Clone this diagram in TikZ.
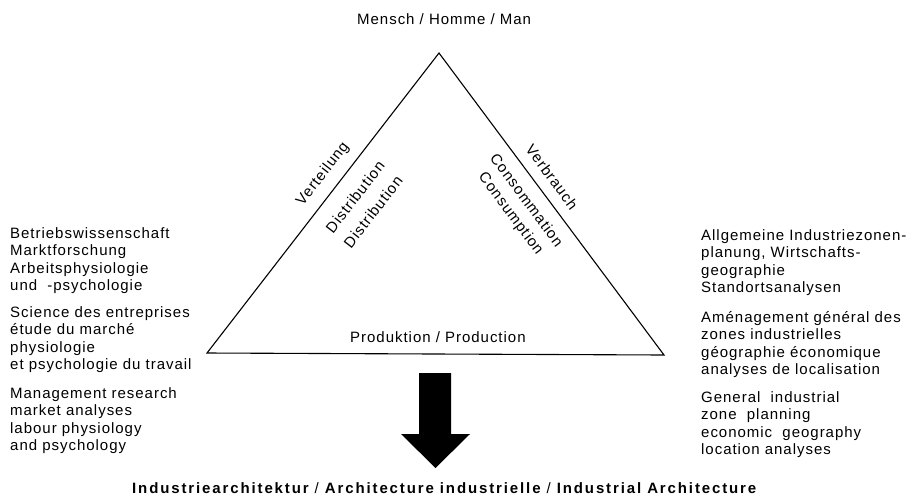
\documentclass[tikz,border=0pt]{standalone}
\usepackage{fontspec}
\setmainfont{Liberation Sans}[LetterSpace=6.5]
\newfontfamily\titlefont{Liberation Sans}[LetterSpace=12.5]
\begin{document}
\begin{tikzpicture}[x=1pt,y=-1pt,
  txt/.style={font=\fontsize{15}{17.5}\selectfont, inner sep=0pt},
  blk/.style={txt, align=left, anchor=north west},
  lside/.style={txt, anchor=center, rotate=52.3},
  rside/.style={txt, anchor=center, rotate=-53.4},
  tri/.style={draw=black, line width=1.1pt, line join=miter},
  bigarrow/.style={fill=black}]
\useasboundingbox (0,0) rectangle (910,499);
\fill[white] (0,0) rectangle (910,499);
% triangle
\coordinate (top) at (439,53);
\coordinate (bl) at (207,353);
\coordinate (br) at (664,355);
\draw[tri] (top) -- (bl) -- (br) -- cycle;
% labels
\node[txt, anchor=base west] (mensch) at (357,24) {Mensch / Homme / Man};
\node[txt, anchor=base west] (prod) at (350,342) {Produktion / Production};
\node[lside] (vert) at (323,174) {Verteilung};
\node[lside] (dist1) at (355,197) {Distribution};
\node[lside] (dist2) at (373,212) {Distribution};
\node[rside] (verb) at (552,177) {Verbrauch};
\node[rside] (cons1) at (527,200) {Consommation};
\node[rside] (cons2) at (510.5,214) {Consumption};
% left blocks
\node[blk] (l1) at (10,227) {Betriebswissenschaft\\Marktforschung\\Arbeitsphysiologie\\und\ \ -psychologie};
\node[blk] (l2) at (10,306) {Science des entreprises\\étude du marché\\physiologie\\et psychologie du travail};
\node[blk] (l3) at (10,387) {Management research\\market analyses\\labour physiology\\and psychology};
% right blocks
\node[blk] (r1) at (701,229) {Allgemeine Industriezonen-\\planung, Wirtschafts-\\geographie\\Standortsanalysen};
\node[blk] (r2) at (701,311) {Aménagement général des\\zones industrielles\\géographie économique\\analyses de localisation};
\node[blk] (r3) at (701,391) {General\ \ industrial\\zone\ \ planning\\economic\ \ geography\\location analyses};
% arrow
\fill[bigarrow] (419,373) -- (451,373) -- (451,434) -- (470,434) -- (435.5,468) -- (401,434) -- (419,434) -- cycle;
% title
\node[inner sep=0pt, anchor=base west, font={\titlefont\bfseries\fontsize{15}{18}\selectfont}] (title) at (132,493)
  {Industriearchitektur {\mdseries/} Architecture industrielle {\mdseries/} Industrial Architecture};
\end{tikzpicture}
\end{document}
